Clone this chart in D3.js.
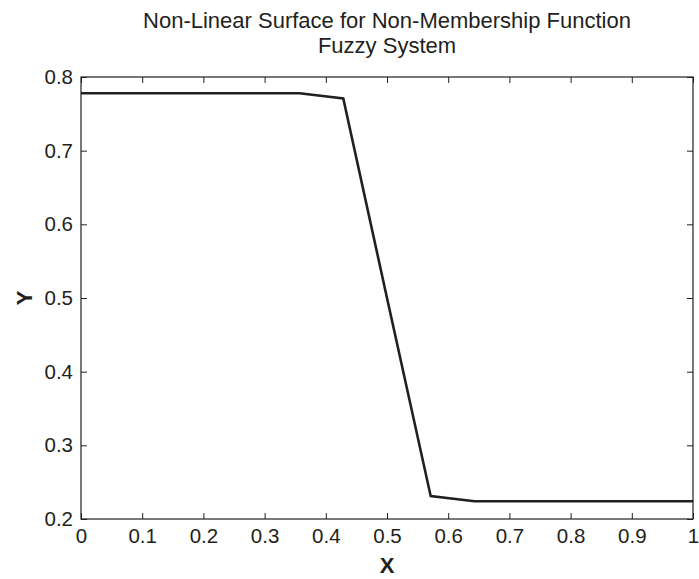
<!DOCTYPE html>
<html>
<head>
<meta charset="utf-8">
<script src="https://cdnjs.cloudflare.com/ajax/libs/d3/7.8.5/d3.min.js"></script>
<style>
  body { margin: 0; background: #fff; }
  svg { display: block; font-family: "Liberation Sans", Arial, sans-serif; }
</style>
</head>
<body>
<div id="chart"></div>
<script>
// sampled surface, x step 1/14
var xs = [0, 1/14, 2/14, 3/14, 4/14, 5/14, 6/14, 7/14, 8/14, 9/14, 10/14, 11/14, 12/14, 13/14, 1];
var ys = [0.778, 0.778, 0.778, 0.778, 0.778, 0.778, 0.771, 0.5, 0.231, 0.224, 0.224, 0.224, 0.224, 0.224, 0.224];
var xTicks = [0, 0.1, 0.2, 0.3, 0.4, 0.5, 0.6, 0.7, 0.8, 0.9, 1];
var yTicks = [0.2, 0.3, 0.4, 0.5, 0.6, 0.7, 0.8];
var titleLines = ["Non-Linear Surface for Non-Membership Function", "Fuzzy System"];

var width = 699, height = 579;
var margin = {left: 81, right: 6, top: 77, bottom: 60};
var iw = width - margin.left - margin.right, ih = height - margin.top - margin.bottom;

var svg = d3.select("#chart").append("svg")
    .attr("width", width)
    .attr("height", height);

var g = svg.append("g").attr("transform", "translate(" + margin.left + "," + margin.top + ")");

var x = d3.scaleLinear().domain([0, 1]).range([0, iw]);
var y = d3.scaleLinear().domain([0.2, 0.8]).range([ih, 0]);

var ink = "#231f20";

function styleAxis(sel, showText) {
    sel.attr("font-size", null).attr("font-family", null);
    sel.select(".domain").remove();
    sel.selectAll("line").attr("stroke", ink).attr("stroke-width", 1);
    sel.selectAll("text").attr("fill", ink).style("font-size", "20.5px");
    if (!showText) sel.selectAll("text").remove();
}

//底部x轴
g.append("g").attr("transform", "translate(0," + ih + ")")
    .call(d3.axisBottom(x).tickValues(xTicks).tickSize(-6).tickPadding(9).tickFormat(d3.format("")))
    .call(styleAxis, true);
//顶部x轴
g.append("g")
    .call(d3.axisTop(x).tickValues(xTicks).tickSize(-6).tickFormat(""))
    .call(styleAxis, false);
//左y轴
g.append("g")
    .call(d3.axisLeft(y).tickValues(yTicks).tickSize(-6).tickPadding(8).tickFormat(d3.format(".1f")))
    .call(styleAxis, true);
//右y轴
g.append("g").attr("transform", "translate(" + iw + ",0)")
    .call(d3.axisRight(y).tickValues(yTicks).tickSize(-6).tickFormat(""))
    .call(styleAxis, false);

// box
g.append("rect")
    .attr("width", iw).attr("height", ih)
    .attr("fill", "none").attr("stroke", ink).attr("stroke-width", 1.2);

var line = d3.line()
    .x(function (d, i) { return x(xs[i]); })
    .y(function (d) { return y(d); });

g.append("path")
    .datum(ys)
    .attr("d", line)
    .attr("fill", "none")
    .attr("stroke", ink)
    .attr("stroke-width", 2.6)
    .attr("stroke-linejoin", "miter");

// title
svg.append("g").selectAll("text")
    .data(titleLines)
    .join("text")
    .attr("x", margin.left + iw / 2)
    .attr("y", function (d, i) { return 28 + i * 25; })
    .attr("text-anchor", "middle")
    .attr("fill", ink)
    .style("font-size", "22px")
    .text(function (d) { return d; });

// axis labels
svg.append("text")
    .attr("x", margin.left + iw / 2)
    .attr("y", 573)
    .attr("text-anchor", "middle")
    .attr("fill", ink)
    .style("font-size", "22px")
    .style("font-weight", "bold")
    .text("X");

svg.append("text")
    .attr("transform", "translate(32," + (margin.top + ih / 2) + ") rotate(-90)")
    .attr("text-anchor", "middle")
    .attr("fill", ink)
    .style("font-size", "22px")
    .style("font-weight", "bold")
    .text("Y");
</script>
</body>
</html>
